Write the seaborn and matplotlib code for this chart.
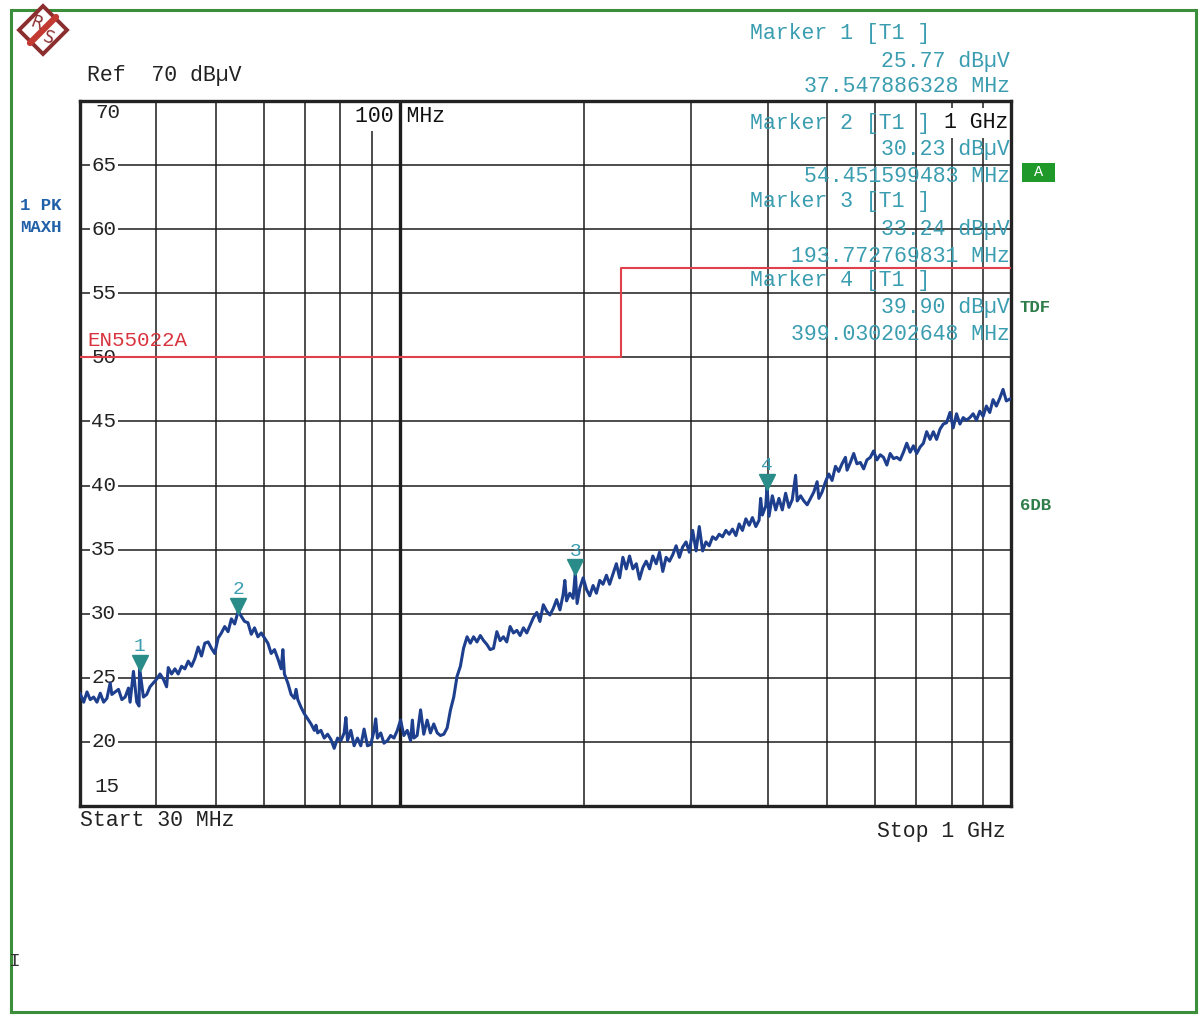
import numpy as np
import pandas as pd
import matplotlib
matplotlib.use("Agg")
import matplotlib.pyplot as plt
import matplotlib.transforms as mtransforms
from matplotlib.patches import Polygon, Rectangle
from matplotlib.lines import Line2D
import seaborn as sns

# ---------------- data ----------------
freq_mhz = [
    30.0, 30.42, 30.80, 31.18, 31.58, 31.98, 32.38, 32.79, 33.20, 33.61,
    33.82, 34.25, 34.68, 35.12, 35.56, 36.01, 36.23, 36.69, 37.15, 37.47,
    37.547886328, 38.09, 38.57, 39.05, 39.55, 40.04, 40.55, 41.06, 41.57, 41.83,
    42.36, 42.89, 43.43, 43.98, 44.53, 45.10, 45.66, 46.23, 46.82, 47.41,
    48.00, 48.61, 49.22, 49.83, 50.47, 51.10, 51.74, 52.40, 53.06, 53.72,
    54.451599483, 55.07, 55.76, 56.47, 57.18, 57.89, 58.63,
    59.37, 60.11, 60.88, 61.64, 62.41, 63.20, 64.00, 64.41, 64.79, 65.62,
    66.44, 67.27, 67.69, 68.13, 68.98, 69.83, 70.73, 71.62, 72.52, 72.97,
    73.42, 74.34, 75.27, 76.23, 77.18, 78.15, 79.15, 80.14, 81.14, 81.66,
    82.17, 83.20, 84.24, 85.31, 86.38, 87.46, 88.58, 89.69, 90.81, 91.37,
    91.97, 93.12, 94.26, 95.48, 96.65, 97.86, 99.13, 100.35, 101.6, 102.9,
    104.2, 104.9, 105.5, 106.8, 108.2, 109.5, 110.9, 112.3, 113.7, 115.2,
    116.6, 118.1, 119.6, 121.1, 122.6, 124.1, 125.7, 127.2, 128.9, 130.5,
    132.1, 133.8,
    135.5, 137.2, 138.9, 140.6, 142.4, 144.2, 146.0, 147.8, 149.7, 151.6,
    153.5, 155.5, 157.4, 159.4, 161.4, 163.4, 165.5, 167.6, 169.6, 171.8,
    174.0, 176.1, 178.3, 180.6, 182.9, 185.1, 186.3, 187.5, 189.8, 192.2,
    193.772769831, 195.1, 197.1, 199.6, 202.1, 204.6, 207.2, 209.8, 212.5, 215.1,
    217.9, 220.5, 223.3, 226.2, 229.0, 231.8, 234.8, 237.7, 240.7, 243.8,
    246.8, 249.9, 253.1, 256.3, 259.5, 262.8, 266.1, 269.4, 272.8, 276.3,
    279.7, 283.3, 286.8, 290.3, 294.1, 297.7, 301.5, 305.4, 309.1, 313.0,
    317.0, 320.9, 325.0, 329.1, 333.2, 337.4, 341.7, 346.0, 350.3, 354.8,
    359.2, 363.7, 368.4, 373.0, 377.6, 382.5, 387.2, 389.5, 392.0,
    397.0, 399.030202648, 401.9, 407.0, 412.2, 417.3, 422.6, 427.9, 433.3, 438.7,
    444.3, 447.0, 452.7, 458.3, 464.1, 470.0, 475.9, 481.8, 485.0, 490.9,
    497.3, 503.5, 509.7, 516.3, 522.6, 529.2, 536.0, 539.3, 546.1, 553.0,
    559.7, 567.0, 574.1, 581.2, 588.7, 595.9, 603.4, 611.2, 618.7, 626.5,
    634.4, 642.4, 650.4, 658.7, 666.9, 675.3, 683.9, 692.4, 701.1, 710.0,
    718.9, 727.9, 737.2, 746.4, 755.6, 765.4, 775.0, 784.5, 794.7, 804.4,
    814.5, 825.0, 835.2, 845.6, 856.4, 867.1, 878.0, 889.1, 900.3, 911.5,
    923.1, 934.7, 946.4, 958.4, 970.4, 982.6, 1000.0,
]
level_dbuv = [
    23.8, 23.1, 23.9, 23.3, 23.5, 23.1, 23.8, 23.1, 23.4, 24.6,
    23.7, 23.9, 24.1, 23.3, 23.5, 24.2, 23.1, 25.5, 23.1, 22.8,
    25.77, 23.5, 23.7, 24.3, 24.6, 24.9, 25.3, 24.9, 24.3, 25.8,
    25.3, 25.7, 25.3, 25.9, 25.7, 26.3, 25.9, 26.5, 27.4, 26.7,
    27.7, 27.8, 27.3, 26.9, 28.1, 28.5, 29.0, 28.6, 29.6, 29.2,
    30.23, 29.8, 29.4, 29.3, 28.4, 28.9, 28.2,
    28.5, 28.1, 27.7, 26.9, 27.2, 26.5, 25.7, 27.2, 25.3, 24.6,
    23.7, 23.4, 24.1, 23.3, 22.7, 22.2, 21.8, 21.4, 20.9, 21.3,
    20.7, 20.9, 20.3, 20.6, 20.2, 19.5, 20.3, 20.1, 20.7, 21.9,
    20.1, 20.9, 19.7, 20.3, 19.7, 21.0, 19.7, 19.8, 20.9, 21.8,
    20.3, 20.7, 19.9, 20.1, 20.5, 20.3, 20.9, 21.7, 20.5, 20.9,
    20.1, 21.7, 20.3, 20.5, 22.5, 20.6, 21.7, 20.7, 21.4, 20.7,
    20.5, 20.6, 21.1, 22.5, 23.5, 25.1, 25.9, 27.3, 28.2, 27.7,
    28.2, 27.8,
    28.3, 27.9, 27.6, 27.2, 27.3, 28.6, 27.9, 28.2, 27.8, 29.0,
    28.5, 28.7, 28.3, 28.9, 28.5, 29.1, 29.7, 30.1, 29.4, 30.7,
    30.2, 29.9, 30.4, 31.1, 30.3, 31.5, 32.6, 31.0, 31.6, 31.2,
    33.24, 30.8, 32.0, 32.8, 31.9, 31.4, 32.2, 31.6, 32.6, 32.3,
    33.0, 32.3, 33.1, 33.9, 32.8, 34.4, 33.5, 34.5, 33.5, 33.9,
    32.7, 33.6, 34.1, 33.5, 34.5, 33.9, 34.8, 33.3, 34.4, 34.1,
    34.6, 35.3, 34.4, 35.2, 35.6, 34.8, 36.5, 34.9, 36.8, 34.9,
    35.6, 35.3, 36.0, 35.8, 36.2, 36.0, 36.5, 36.2, 36.6, 36.1,
    37.0, 36.5, 37.4, 36.9, 37.5, 36.8, 37.3, 39.0, 37.7,
    38.4, 39.90, 37.6, 39.2, 38.1, 39.0, 38.1, 39.4, 38.3, 38.9,
    40.8, 38.8, 39.2, 38.8, 38.5, 39.0, 39.5, 40.3, 39.0, 39.5,
    40.3, 40.9, 40.4, 41.5, 41.1, 41.7, 42.2, 41.2, 41.8, 42.5,
    41.7, 41.8, 41.3, 42.0, 42.2, 42.7, 42.0, 42.4, 42.2, 41.6,
    42.5, 42.1, 42.2, 42.0, 42.6, 43.3, 42.6, 43.1, 42.5, 43.0,
    43.3, 44.2, 43.6, 44.2, 43.6, 44.4, 44.8, 44.9, 45.7, 44.5,
    45.6, 44.8, 45.3, 45.1, 45.3, 45.6, 45.1, 45.8, 45.4, 46.2,
    45.7, 46.7, 46.2, 46.8, 47.5, 46.6, 46.8,
]

limit_freq_mhz = [30, 230, 230, 1000]
limit_level_dbuv = [50, 50, 57, 57]
limit_name = "EN55022A"

marker_ids = ["1", "2", "3", "4"]
marker_freq_mhz = [37.547886328, 54.451599483, 193.772769831, 399.030202648]
marker_level_dbuv = [25.77, 30.23, 33.24, 39.90]
marker_level_text = ["25.77 dBµV", "30.23 dBµV", "33.24 dBµV", "39.90 dBµV"]
marker_freq_text = ["37.547886328 MHz", "54.451599483 MHz",
                    "193.772769831 MHz", "399.030202648 MHz"]

y_grid_levels = [20, 25, 30, 35, 40, 45, 50, 55, 60, 65]
y_top_label, y_bottom_label = "70", "15"
x_grid_mhz = [40, 50, 60, 70, 80, 90, 200, 300, 400, 500, 600, 700, 800, 900]
x_decade_mhz = [100]
x_decade_label = "100 MHz"

# ---------------- styling ----------------
sns.set_style("white")
plt.rcParams["font.family"] = ["Liberation Mono", "DejaVu Sans Mono"]

W, H = 1204, 1019
fig = plt.figure(figsize=(W / 100, H / 100), dpi=100)
fig.patch.set_facecolor("white")

def fx(x):
    return x / W

def fy(y):
    return 1 - y / H

L, R, T, B = 80, 1011, 101, 806
ax = fig.add_axes([fx(L), fy(B), (R - L) / W, (B - T) / H])
ax.set_facecolor("white")
ax.set_xscale("log")
ax.set_xlim(30, 1000)
ax.set_ylim(15, 70)

grid_col = "#1c1c1c"
ax.set_xticks(x_grid_mhz + x_decade_mhz)
ax.set_xticks([], minor=True)
ax.set_yticks(y_grid_levels)
ax.tick_params(axis="x", length=0, labelbottom=False)
ax.tick_params(axis="y", direction="in", length=6, width=1.2, color=grid_col,
               labelleft=False)
ax.grid(True, which="major", color=grid_col, linewidth=1.1)
ax.set_axisbelow(True)
for xv in x_decade_mhz:
    ax.axvline(xv, color=grid_col, linewidth=2.4, zorder=2.5)
for side, sp in ax.spines.items():
    sp.set_color("#222222")
    sp.set_linewidth(2.4)

# y-axis labels inside the plot
lab_tr = mtransforms.blended_transform_factory(ax.transAxes, ax.transData)
for lv in y_grid_levels:
    ax.text(0.012, lv, str(lv), transform=lab_tr, fontsize=15, color="#222222",
            va="center", ha="left", zorder=3,
            bbox=dict(facecolor="white", edgecolor="none", pad=1.0))
ax.text(0.016, 69.1, y_top_label, transform=lab_tr, fontsize=15,
        color="#222222", va="center", ha="left", zorder=3)
ax.text(0.016, 16.5, y_bottom_label, transform=lab_tr, fontsize=15,
        color="#222222", va="center", ha="left", zorder=3)

# frequency labels at top of the grid (white backing hides grid lines)
fig_tr = fig.transFigure
dec_tr = mtransforms.blended_transform_factory(ax.transData, fig_tr)
ax.text(x_decade_mhz[0], fy(116), x_decade_label, transform=dec_tr,
        fontsize=15.5, color="#111111", va="center", ha="center", zorder=2,
        bbox=dict(facecolor="white", edgecolor="none", pad=3.0))
ax.text(fx(1008), fy(123), "1 GHz", transform=fig_tr, fontsize=15.5,
        color="#111111", va="center", ha="right", zorder=2,
        bbox=dict(facecolor="white", edgecolor="none", pad=3.0))

# limit line
sns.lineplot(x=limit_freq_mhz, y=limit_level_dbuv, ax=ax, estimator=None,
             sort=False, color="#e0404c", linewidth=1.5, zorder=4)
ax.text(0.008, 51.3, limit_name, transform=lab_tr, fontsize=15,
        color="#d8343f", va="center", ha="left", zorder=5)

# trace
trace = pd.DataFrame({"freq": freq_mhz, "level": level_dbuv})
sns.lineplot(data=trace, x="freq", y="level", ax=ax, estimator=None,
             errorbar=None, color="#1d3f8e", linewidth=2.2, zorder=6)

# markers (triangle tip sits on the marker level)
tri_tr = mtransforms.offset_copy(ax.transData, fig=fig, x=0, y=5, units="dots")
ax.plot(marker_freq_mhz, marker_level_dbuv, linestyle="none", marker="v",
        markersize=11, color="#2a8c88", transform=tri_tr, zorder=7)
for mid, mf, ml in zip(marker_ids, marker_freq_mhz, marker_level_dbuv):
    ax.annotate(mid, (mf, ml), xytext=(0, 21), textcoords="offset pixels",
                ha="center", va="center", fontsize=14, color="#3a9db0",
                zorder=8)

ax.set_xlabel("")
ax.set_ylabel("")
if ax.get_legend() is not None:
    ax.get_legend().remove()

# ---------------- annotations around the plot ----------------
txt = dict(fontsize=15.5)
fig.text(fx(87), fy(76), "Ref  70 dBµV", color="#222222", va="center", **txt)
fig.text(fx(80), fy(821), "Start 30 MHz", color="#222222", va="center", **txt)
fig.text(fx(1006), fy(831), "Stop 1 GHz", color="#222222", va="center",
         ha="right", **txt)

mk_col = "#3a9db0"
head_y = [34, 123, 201, 280]
lvl_y = [62, 149, 230, 308]
frq_y = [87, 177, 257, 334]
for i, mid in enumerate(marker_ids):
    fig.text(fx(750), fy(head_y[i]), f"Marker {mid} [T1 ]", color=mk_col,
             va="center", ha="left", **txt)
    fig.text(fx(1010), fy(lvl_y[i]), marker_level_text[i], color=mk_col,
             va="center", ha="right", **txt)
    fig.text(fx(1010), fy(frq_y[i]), marker_freq_text[i], color=mk_col,
             va="center", ha="right", **txt)

fig.text(fx(20), fy(205), "1 PK", color="#2060a8", fontsize=12.5,
         fontweight="bold", va="center")
fig.text(fx(20), fy(227), "MAXH", color="#2060a8", fontsize=12.5,
         fontweight="bold", va="center")
fig.text(fx(1020), fy(307), "TDF", color="#2e7d4a", fontsize=12.5,
         fontweight="bold", va="center")
fig.text(fx(1020), fy(505), "6DB", color="#2e7d4a", fontsize=12.5,
         fontweight="bold", va="center")

# green "A" box
fig.patches.append(Rectangle((fx(1022), fy(182)), 33 / W, 19 / H,
                             transform=fig.transFigure, facecolor="#1f9a2a",
                             edgecolor="none"))
fig.text(fx(1038.5), fy(172.5), "A", color="white", fontsize=11,
         va="center", ha="center")

# cursor glyph bottom-left
fig.text(fx(8), fy(962), "I", color="#333333", fontsize=14, va="center")

# outer green frame
fig.patches.append(Rectangle((fx(11), fy(1012)), (1196 - 11) / W,
                             (1012 - 10) / H, transform=fig.transFigure,
                             facecolor="none", edgecolor="#3b8f3b",
                             linewidth=2.2))

# R&S logo
cx, cy, r = 43, 30, 24
diamond = [(fx(cx - r), fy(cy)), (fx(cx), fy(cy - r)),
           (fx(cx + r), fy(cy)), (fx(cx), fy(cy + r))]
fig.patches.append(Polygon(diamond, closed=True, transform=fig.transFigure,
                           facecolor="white", edgecolor="#8c2e2e",
                           linewidth=2.8))
fig.lines.append(Line2D([fx(cx - 13), fx(cx + 13)], [fy(cy + 13), fy(cy - 13)],
                        transform=fig.transFigure, color="#c23a32",
                        linewidth=4.5))
fig.text(fx(cx - 6), fy(cy - 7), "R", color="#8c2e2e", fontsize=12,
         ha="center", va="center", rotation=-20, fontfamily="DejaVu Sans")
fig.text(fx(cx + 6), fy(cy + 8), "S", color="#8c2e2e", fontsize=12,
         ha="center", va="center", rotation=-20, fontfamily="DejaVu Sans")

fig.savefig("out.png", dpi=100, facecolor="white")
